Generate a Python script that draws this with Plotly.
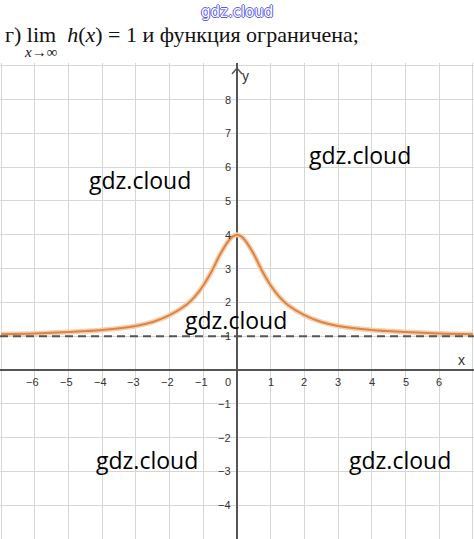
import plotly.graph_objects as go

# ---- data ----
x_vals = [-7, -6, -5, -4, -3, -2.5, -2, -1.5, -1.25, -1, -0.75, -0.5, -0.25, -0.125, 0,
          0.125, 0.25, 0.5, 0.75, 1, 1.25, 1.5, 2, 2.5, 3, 4, 5, 6, 7]
h_vals = [1.06, 1.08, 1.12, 1.18, 1.3, 1.42, 1.62, 1.93, 2.17, 2.5, 2.92, 3.42, 3.82, 3.95, 4.0,
          3.95, 3.82, 3.42, 2.92, 2.5, 2.17, 1.93, 1.62, 1.42, 1.3, 1.18, 1.12, 1.08, 1.06]
asymptote_y = 1
x_ticks = [-6, -5, -4, -3, -2, -1, 1, 2, 3, 4, 5, 6]
y_ticks = [-4, -3, -2, -1, 1, 2, 3, 4, 5, 6, 7, 8]
x_range = [-7.03, 7.03]
y_range = [-5.0, 9.08]

W, H = 474, 539
TOP = 63

fig = go.Figure()

fig.add_hline(y=asymptote_y, line=dict(color="#555555", width=2, dash="8px,5px"), layer="above")

fig.add_trace(go.Scatter(x=x_vals, y=h_vals, mode="lines", line_shape="spline",
                         line=dict(color="#f5d0b0", width=5), hoverinfo="skip"))
fig.add_trace(go.Scatter(x=x_vals, y=h_vals, mode="lines", line_shape="spline",
                         line=dict(color="#dc8445", width=2)))

ann = []
tick_font = dict(family="Arial, Liberation Sans", size=11, color="#333333")
for t in x_ticks:
    label = ("−" + str(-t)) if t < 0 else str(t)
    ann.append(dict(x=t, y=0, xref="x", yref="y", text=label, showarrow=False,
                    font=tick_font, yshift=-12, xshift=(-2 if t < 0 else 0)))
for t in y_ticks:
    label = ("−" + str(-t)) if t < 0 else str(t)
    ann.append(dict(x=0, y=t, xref="x", yref="y", text=label, showarrow=False,
                    font=tick_font, xanchor="right", xshift=-4))
ann.append(dict(x=0, y=0, xref="x", yref="y", text="0", showarrow=False,
                font=tick_font, xanchor="right", xshift=-4, yshift=-12))
ann.append(dict(x=x_range[1], y=0, xref="x", yref="y", text="x", showarrow=False,
                font=dict(family="Arial", size=14, color="#333"), xshift=-13, yshift=10))
ann.append(dict(x=0, y=y_range[1], xref="x", yref="y", text="y", showarrow=False,
                font=dict(family="Arial", size=14, color="#333"), xshift=8, yshift=-13))

wm_font = dict(family="Open Sans", size=23, color="#000000")
for (px, py) in [(360, 155), (140, 180), (236, 320), (147, 460), (400, 460)]:
    ann.append(dict(x=px / W, y=(H - py) / (H - TOP), xref="paper", yref="paper",
                    xanchor="center", yanchor="middle",
                    text="gdz.cloud", showarrow=False, font=wm_font))

ann.append(dict(x=237 / W, y=(H - 12) / (H - TOP), xref="paper", yref="paper",
                xanchor="center", yanchor="middle",
                text="gdz.cloud", showarrow=False,
                font=dict(family="DejaVu Sans", size=15, color="#ffffff",
                          shadow="1px 0 0 #5b5bf0, -1px 0 0 #5b5bf0, 0 1px 0 #5b5bf0, 0 -1px 0 #5b5bf0")))
ann.append(dict(x=3 / W, y=(H - 34) / (H - TOP), xref="paper", yref="paper",
                xanchor="left", yanchor="middle",
                text="г) lim  <i>h</i>(<i>x</i>) = 1 и функция ограничена;", showarrow=False,
                font=dict(family="Liberation Serif", size=22, color="#111111")))
ann.append(dict(x=40 / W, y=(H - 52) / (H - TOP), xref="paper", yref="paper",
                xanchor="center", yanchor="middle",
                text="<i>x</i>→∞", showarrow=False,
                font=dict(family="Liberation Serif", size=15, color="#111111")))

axis_common = dict(showgrid=True, gridcolor="#d6d6d6", gridwidth=1, dtick=1,
                   zeroline=True, zerolinecolor="#555555", zerolinewidth=2,
                   showticklabels=False, ticks="", showline=False, fixedrange=True)

fig.update_layout(
    width=W, height=H, margin=dict(l=0, r=0, t=TOP, b=0),
    paper_bgcolor="white", plot_bgcolor="white", showlegend=False,
    xaxis=dict(range=x_range, tick0=0, **axis_common),
    yaxis=dict(range=y_range, tick0=0, **axis_common),
    annotations=ann,
    shapes=[
        dict(type="path", xref="x", yref="y", xsizemode="pixel", ysizemode="pixel",
             xanchor=6.97, yanchor=0, path="M -6 5 L 0 0 L -6 -5",
             line=dict(color="#555555", width=1.5)),
        dict(type="path", xref="x", yref="y", xsizemode="pixel", ysizemode="pixel",
             xanchor=0, yanchor=8.93, path="M -5 -6 L 0 0 L 5 -6",
             line=dict(color="#555555", width=1.5)),
    ],
)

fig.write_html("out.html", config={"displayModeBar": False},
               post_script="document.body.style.margin='0';")
